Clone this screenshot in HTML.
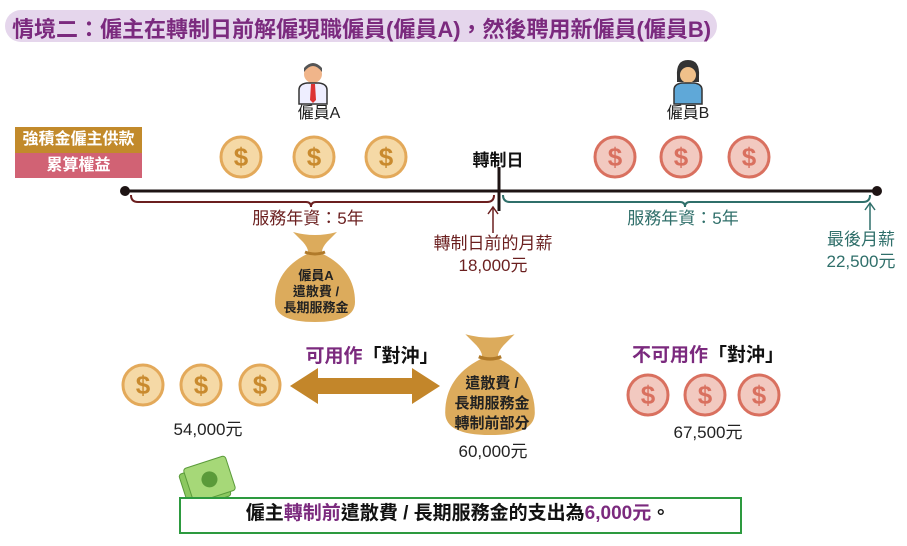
<!DOCTYPE html>
<html><head><meta charset="utf-8"><style>
body{margin:0;background:#fff;}
#c{position:relative;width:907px;height:546px;overflow:hidden;font-family:"Liberation Sans","Noto Sans CJK TC",sans-serif;}
.t{position:absolute;white-space:nowrap;transform:translateX(-50%);line-height:1;}
</style></head><body><div id="c">
<div style="position:absolute;left:5px;top:10px;width:712px;height:32px;background:#e5d6ec;border-radius:16px;"></div>
<div style="position:absolute;left:12px;top:12px;font-size:22px;font-weight:bold;color:#7b2a7e;white-space:nowrap;">情境二：僱主在轉制日前解僱現職僱員(僱員A)，然後聘用新僱員(僱員B)</div>

<div style="position:absolute;left:15px;top:127px;width:127px;height:26px;background:#c28a2b;color:#fff;font-weight:bold;font-size:16px;text-align:center;line-height:26px;">強積金僱主供款</div>
<div style="position:absolute;left:15px;top:153px;width:127px;height:25px;background:#d16274;color:#fff;font-weight:bold;font-size:16px;text-align:center;line-height:25px;">累算權益</div>

<svg width="907" height="546" style="position:absolute;left:0;top:0">
<defs>
<g id="gc"><circle r="20" fill="#f5d9a6" stroke="#e3a95a" stroke-width="3"/><text y="9" text-anchor="middle" font-size="26" font-weight="bold" fill="#c98a2e" font-family="Liberation Sans">$</text></g>
<g id="pc"><circle r="20" fill="#f2c9c0" stroke="#d9705f" stroke-width="3"/><text y="9" text-anchor="middle" font-size="26" font-weight="bold" fill="#d9705f" font-family="Liberation Sans">$</text></g>
<g id="bag"><path d="M-12,-38 L-22,-48 Q0,-42 22,-48 L12,-38 Q5,-30 8,-26 Q40,-10 40,22 Q40,42 0,42 Q-40,42 -40,22 Q-40,-10 -8,-26 Q-5,-30 -12,-38Z" fill="#dcab5c"/><path d="M-10,-28 Q0,-24 10,-28" stroke="#b07a2a" stroke-width="3" fill="none"/></g>
</defs>
<use href="#gc" x="241" y="157"/><use href="#gc" x="314" y="157"/><use href="#gc" x="386" y="157"/>
<use href="#pc" x="615" y="157"/><use href="#pc" x="681" y="157"/><use href="#pc" x="749" y="157"/>
<use href="#gc" x="143" y="385"/><use href="#gc" x="201" y="385"/><use href="#gc" x="260" y="385"/>
<use href="#pc" x="648" y="395"/><use href="#pc" x="705" y="395"/><use href="#pc" x="759" y="395"/>
<line x1="125" y1="191" x2="877" y2="191" stroke="#1e1414" stroke-width="3"/>
<circle cx="125" cy="191" r="5" fill="#1e1414"/><circle cx="877" cy="191" r="5" fill="#1e1414"/>
<line x1="499" y1="167" x2="499" y2="211" stroke="#1e1414" stroke-width="3"/>
<path d="M131,195 Q131,202 138,202 L306,202 Q311,202 311,207 Q311,202 316,202 L487,202 Q494,202 494,195" stroke="#6b1f1f" stroke-width="2" fill="none"/>
<path d="M503,195 Q503,202 510,202 L680,202 Q685,202 685,207 Q685,202 690,202 L863,202 Q870,202 870,195" stroke="#2f6f6a" stroke-width="2" fill="none"/>
<line x1="493" y1="208" x2="493" y2="233" stroke="#6b1f1f" stroke-width="1.5"/><path d="M488,214 L493,207 L498,214" stroke="#6b1f1f" stroke-width="1.5" fill="none"/>
<line x1="870" y1="204" x2="870" y2="230" stroke="#2f6f6a" stroke-width="1.5"/><path d="M865,210 L870,203 L875,210" stroke="#2f6f6a" stroke-width="1.5" fill="none"/>
<use href="#bag" x="315" y="280"/>
<g transform="translate(490,388) scale(1.12,1.12)"><use href="#bag"/></g>
<path d="M290,386 L318,368 L318,378 L412,378 L412,368 L440,386 L412,404 L412,394 L318,394 L318,404Z" fill="#c3862a"/>
<g transform="translate(313,82)"><circle cy="-8" r="9" fill="#f0b58a"/><path d="M-9,-10 Q0,-22 9,-10 L9,-14 Q0,-24 -9,-14Z" fill="#555"/><path d="M-14,22 L-14,8 Q-14,2 -6,1 L6,1 Q14,2 14,8 L14,22Z" fill="#eef" stroke="#333" stroke-width="1.5"/><path d="M-2,2 L2,2 L3,18 L0,21 L-3,18Z" fill="#d33"/></g>
<g transform="translate(688,82)"><path d="M-11,-6 Q-12,-22 0,-22 Q12,-22 11,-6 L11,0 L-11,0Z" fill="#333"/><circle cy="-7" r="8" fill="#f0c08a"/><path d="M-14,22 L-14,8 Q-14,2 -6,1 L6,1 Q14,2 14,8 L14,22Z" fill="#5fa8d8" stroke="#333" stroke-width="1.5"/></g>
<g transform="translate(205,485) rotate(-18)"><rect x="-22" y="-18" width="44" height="36" rx="3" fill="#8cc860" stroke="#5a9a3a"/><rect x="-16" y="-22" width="44" height="36" rx="3" fill="#a6d878" stroke="#5a9a3a"/><circle cx="6" cy="-4" r="8" fill="#5a9a3a"/></g>
</svg>

<div class="t" style="left:319px;top:106px;font-size:16px;color:#222;">僱員A</div>
<div class="t" style="left:688px;top:106px;font-size:16px;color:#222;">僱員B</div>
<div class="t" style="left:498px;top:152px;font-size:17px;font-weight:bold;color:#111;">轉制日</div>
<div class="t" style="left:308px;top:210px;font-size:17px;color:#6b1f1f;">服務年資：5年</div>
<div class="t" style="left:683px;top:210px;font-size:17px;color:#2f6f6a;">服務年資：5年</div>
<div class="t" style="left:493px;top:235px;font-size:17px;color:#6b1f1f;">轉制日前的月薪</div>
<div class="t" style="left:493px;top:257px;font-size:17px;color:#6b1f1f;">18,000元</div>
<div class="t" style="left:861px;top:231px;font-size:17px;color:#2f6f6a;">最後月薪</div>
<div class="t" style="left:861px;top:253px;font-size:17px;color:#2f6f6a;">22,500元</div>
<div class="t" style="left:316px;top:268px;font-size:13px;font-weight:bold;color:#222;line-height:16px;text-align:center;">僱員A<br>遣散費 /<br>長期服務金</div>
<div class="t" style="left:492px;top:374px;font-size:15px;font-weight:bold;color:#222;line-height:20px;text-align:center;">遣散費 /<br>長期服務金<br>轉制前部分</div>
<div class="t" style="left:372px;top:347px;font-size:19px;font-weight:bold;"><span style="color:#7b2a7e">可用作</span><span style="color:#111">「對沖」</span></div>
<div class="t" style="left:708px;top:346px;font-size:19px;font-weight:bold;"><span style="color:#7b2a7e">不可用作</span><span style="color:#111">「對沖」</span></div>
<div class="t" style="left:208px;top:421px;font-size:17px;color:#222;">54,000元</div>
<div class="t" style="left:493px;top:443px;font-size:17px;color:#222;">60,000元</div>
<div class="t" style="left:708px;top:424px;font-size:17px;color:#222;">67,500元</div>
<div style="position:absolute;left:179px;top:497px;width:559px;height:33px;border:2px solid #2d9a3f;background:#fff;"></div>
<div class="t" style="left:458px;top:504px;font-size:19px;font-weight:bold;color:#111;">僱主<span style="color:#7b2a7e">轉制前</span>遣散費 / 長期服務金的支出為<span style="color:#7b2a7e">6,000元</span>。</div>
</div></body></html>
